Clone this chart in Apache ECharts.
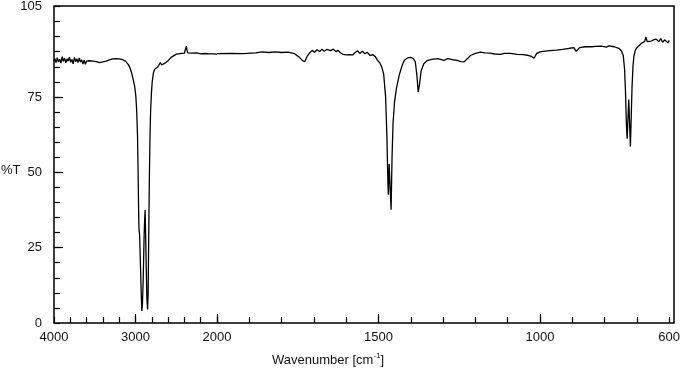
<!DOCTYPE html>
<html>
<head>
<meta charset="utf-8">
<script src="https://cdn.jsdelivr.net/npm/echarts@6/dist/echarts.min.js"></script>
<style>
  html, body { margin: 0; padding: 0; background: #fff; }
  #chart { width: 683px; height: 375px; }
</style>
</head>
<body>
<div id="chart"></div>
<script>
// IR spectrum: wavenumber [cm-1] and %T
const wavenumbers = [
  4000, 3990, 3975, 3960, 3945, 3930, 3915, 3900, 3885, 3870, 3855, 3840, 3825, 3810, 3795,
  3780, 3765, 3750, 3735, 3720, 3705, 3690, 3675, 3660, 3645, 3630, 3615, 3600, 3585, 3570,
  3550, 3520, 3480, 3440, 3400, 3360, 3320, 3280, 3240, 3200, 3160, 3120, 3090, 3070, 3050,
  3030, 3010, 2995, 2985, 2975, 2968, 2962, 2958, 2955, 2950, 2940, 2930, 2922, 2915, 2905,
  2895, 2888, 2882, 2876, 2868, 2860, 2852, 2845, 2838, 2830, 2822, 2815, 2805, 2795, 2780,
  2764, 2745, 2724, 2712, 2695, 2680, 2663, 2640, 2601, 2560, 2498, 2450, 2400, 2385, 2376,
  2368, 2358, 2340, 2300, 2250, 2200, 2150, 2100, 2050, 2000,
  1960, 1920, 1880, 1860, 1840, 1820, 1800, 1780, 1760, 1745, 1735, 1728, 1720, 1712, 1705,
  1698, 1690, 1682, 1675, 1668, 1660, 1654, 1648, 1640, 1632, 1625, 1618, 1610, 1600, 1590,
  1580, 1572, 1565, 1558, 1550, 1542, 1535, 1526, 1518, 1510, 1503, 1496, 1490, 1484, 1478,
  1474, 1471, 1469.5, 1467, 1464, 1461, 1458, 1455, 1450, 1444, 1435, 1427, 1420, 1410, 1400,
  1392, 1386, 1381, 1377, 1373, 1368, 1360, 1350, 1335, 1317, 1305, 1297, 1286, 1270, 1256,
  1245, 1235, 1225, 1215, 1200, 1184, 1170, 1154, 1140, 1123, 1110, 1092, 1070, 1051, 1035,
  1026, 1018, 1011, 1000, 990, 970, 949, 930, 909, 895, 888, 882, 877, 860, 840,
  827, 810, 795, 786, 770, 756, 748, 742, 738, 735, 732.5, 730, 727.5, 725, 722.5,
  720, 717.5, 715, 712, 709, 705, 700, 692, 684, 676, 672, 668, 662, 655, 648,
  640, 632, 626, 620, 614, 608, 604, 600
];
const transmittance = [
  87.0, 87.8, 86.4, 88.0, 86.6, 87.5, 86.2, 88.4, 86.8, 87.9, 86.3, 87.6, 86.9, 88.2, 86.5,
  87.4, 86.0, 88.1, 86.7, 87.7, 86.4, 87.9, 86.6, 87.3, 85.9, 87.2, 85.8, 86.9, 86.3, 87.0,
  86.8, 86.9, 86.7, 86.4, 86.6, 86.9, 87.3, 87.6, 87.7, 87.6, 87.4, 86.8, 85.8, 84.8, 83.2,
  81.0, 78.5, 75.0, 70.0, 62.0, 50.0, 38.0, 32.0, 30.5, 29.5, 20.0, 10.0, 4.0, 6.0, 15.0,
  28.0, 34.0, 37.5, 30.0, 18.0, 8.0, 4.5, 10.0, 28.0, 48.0, 62.0, 70.0, 76.0, 80.0, 83.0,
  84.2, 84.6, 85.0, 85.6, 86.4, 85.6, 85.0, 86.2, 87.0, 88.2, 89.2, 89.4, 89.5, 89.6, 91.9,
  90.6, 89.6, 89.4, 89.5, 89.6, 89.3, 89.4, 89.3, 89.3, 89.2,
  89.3, 89.2, 89.5, 89.8, 89.6, 89.8, 89.6, 89.7, 89.2, 88.0, 86.9, 86.6, 88.5, 89.6, 90.3,
  89.7, 90.5, 89.9, 90.7, 90.0, 90.6, 91.2, 90.2, 90.7, 89.9, 90.3, 89.5, 89.0, 88.8, 88.9,
  88.8, 89.6, 90.2, 89.3, 90.0, 89.2, 89.7, 88.6, 88.9, 88.3, 87.0, 86.2, 84.8, 82.5, 75.0,
  62.0, 47.0, 42.5, 52.7, 45.0, 37.5, 55.0, 66.0, 73.6, 78.0, 82.4, 85.2, 87.0, 87.8, 88.0,
  87.6, 86.5, 82.0, 76.5, 79.0, 83.5, 85.8, 86.9, 87.3, 87.6, 87.2, 87.0, 87.6, 87.2, 87.0,
  86.6, 86.5, 87.5, 88.6, 89.3, 89.7, 89.5, 89.4, 89.1, 89.0, 89.3, 89.3, 89.0, 88.9, 88.6,
  88.3, 87.7, 89.2, 89.8, 90.0, 90.2, 90.4, 90.6, 91.0, 91.2, 90.0, 90.4, 91.2, 91.5, 91.5,
  91.6, 91.7, 91.4, 91.8, 91.5, 91.0, 90.2, 88.5, 84.0, 76.0, 66.0, 61.0, 68.0, 74.0, 66.0,
  58.5, 68.0, 78.0, 85.0, 88.5, 90.3, 91.2, 92.0, 92.8, 93.2, 94.8, 93.2, 93.0, 93.4, 93.8,
  94.0, 93.2, 94.2, 93.0, 93.8, 94.0, 92.8, 93.6
];
// scale changes at 2000 cm-1
const scaleBreak = 2000;
const xLabelsHigh = [4000, 3000, 2000];
const xMajorHigh = [3000, 2000];
const xLabelsLow = [1500, 1000, 600];
const xMajorLow = [1500, 1000];
const yLabels = [0, 25, 50, 75, 105];
const yMajor = [25, 50, 75];

const high = [], low = [];
wavenumbers.forEach((w, i) => {
  if (w >= scaleBreak) high.push([w, transmittance[i]]);
  if (w <= scaleBreak) low.push([w, transmittance[i]]);
});

const font = { fontFamily: 'Liberation Sans, Arial, sans-serif', fontSize: 13, color: '#111', fontWeight: 'normal' };
const noLine = { show: false, onZero: false };
const hidden = { show: false };
const tickStyle = { color: '#000', width: 1.2 };
const plain = v => String(v);

function xAxisSet(grid, min, max, interval, major, labels) {
  return [
    {
      type: 'value', gridIndex: grid, min, max, interval, inverse: true, position: 'bottom',
      axisLine: noLine, splitLine: hidden, axisLabel: hidden,
      axisTick: { inside: true, length: 6, lineStyle: tickStyle }
    },
    {
      type: 'value', gridIndex: grid, min, max, interval, inverse: true, position: 'bottom',
      axisLine: noLine, splitLine: hidden,
      axisTick: { inside: true, length: 9, customValues: major, lineStyle: tickStyle },
      axisLabel: { ...font, margin: 8, customValues: labels, formatter: plain }
    }
  ];
}

const chart = echarts.init(document.getElementById('chart'));
chart.setOption({
  animation: false,
  grid: [
    { left: 54, top: 6, width: 163, height: 317 },
    { left: 217, top: 6, width: 457, height: 317 },
    // frame round the whole plot
    { left: 54, top: 6, width: 620, height: 317, show: true, borderColor: '#000', borderWidth: 1.5, backgroundColor: 'transparent' }
  ],
  xAxis: [
    ...xAxisSet(0, 2000, 4000, 200, xMajorHigh, xLabelsHigh),
    ...xAxisSet(1, 600, 2000, 100, xMajorLow, xLabelsLow),
    { type: 'value', gridIndex: 2, min: 0, max: 1, show: false }
  ],
  yAxis: [
    {
      type: 'value', gridIndex: 0, min: 0, max: 105, interval: 5, position: 'left',
      axisLine: noLine, splitLine: hidden,
      axisTick: { inside: true, length: 6, lineStyle: tickStyle },
      axisLabel: { ...font, margin: 12, customValues: yLabels, formatter: plain }
    },
    {
      type: 'value', gridIndex: 0, min: 0, max: 105, interval: 5, position: 'left',
      axisLine: noLine, splitLine: hidden, axisLabel: hidden,
      axisTick: { inside: true, length: 9, customValues: yMajor, lineStyle: tickStyle }
    },
    {
      type: 'value', gridIndex: 1, min: 0, max: 105, interval: 5, position: 'right',
      axisLine: noLine, splitLine: hidden, axisLabel: hidden, axisTick: hidden
    },
    { type: 'value', gridIndex: 2, min: 0, max: 1, show: false }
  ],
  title: {
    text: '{a|Wavenumber [cm}{s|-1}{a|]}',
    left: 272, top: 352, padding: 0,
    textStyle: {
      fontWeight: 'normal',
      rich: {
        a: { ...font, lineHeight: 16 },
        s: { ...font, fontSize: 8, lineHeight: 16, verticalAlign: 'top' }
      }
    }
  },
  graphic: [
    { type: 'text', left: 1, top: 164, style: { text: '%T', fill: '#111', font: '13px Liberation Sans, Arial, sans-serif' } }
  ],
  series: [
    {
      type: 'line', xAxisIndex: 0, yAxisIndex: 0, data: high, showSymbol: false,
      lineStyle: { color: '#000', width: 1.3 }
    },
    {
      type: 'line', xAxisIndex: 3, yAxisIndex: 2, data: low, showSymbol: false,
      lineStyle: { color: '#000', width: 1.3 }
    }
  ]
});
</script>
</body>
</html>
